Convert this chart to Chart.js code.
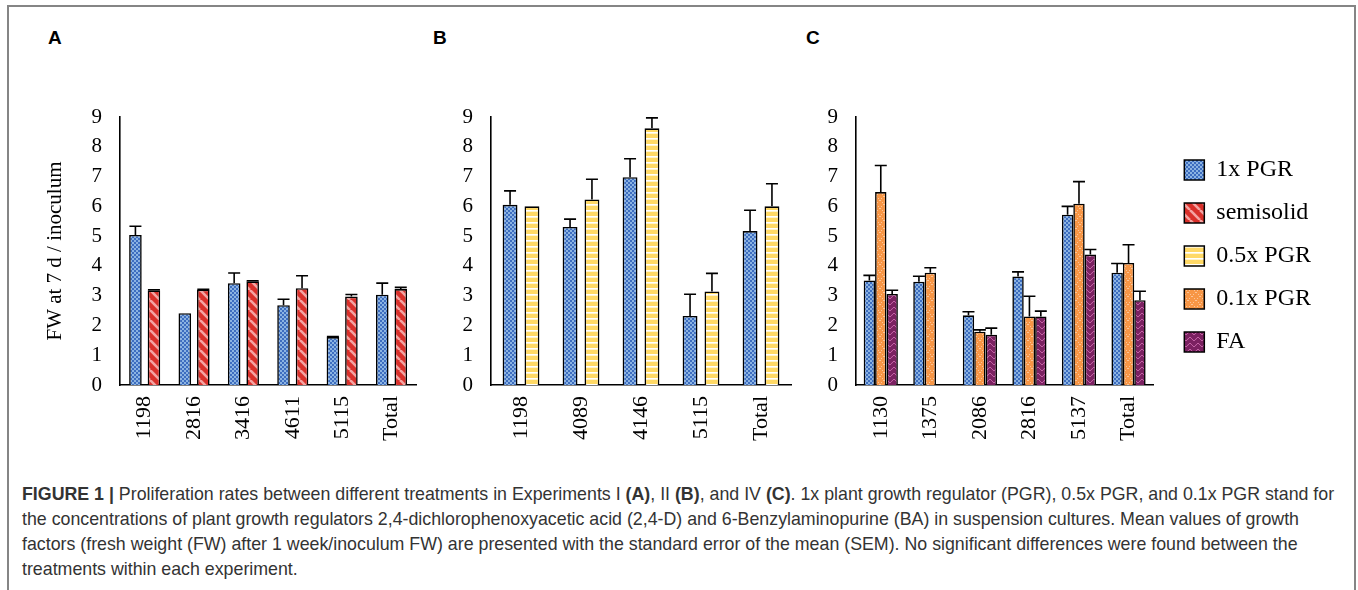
<!DOCTYPE html>
<html>
<head>
<meta charset="utf-8">
<script src="https://cdn.jsdelivr.net/npm/chart.js@4.4.1/dist/chart.umd.min.js"></script>
<style>
  html, body { margin: 0; padding: 0; background: #fff; }
  body { width: 1358px; height: 590px; position: relative; overflow: hidden; }
  .frame { position: absolute; left: 7px; top: 5px; width: 1345px; height: 700px; border: 2px solid #858585; }
  .tag { position: absolute; top: 28px; font: bold 19px/19px "Liberation Sans", Arial, sans-serif; color: #000; }
  canvas { position: absolute; top: 0; }
  .caption { position: absolute; left: 22px; top: 482px; font: 17.8px/25px "Liberation Sans", Arial, sans-serif; color: #333; white-space: nowrap; }
</style>
</head>
<body>
<div class="frame"></div>
<div class="tag" style="left:48px">A</div>
<div class="tag" style="left:433px">B</div>
<div class="tag" style="left:806px">C</div>
<canvas id="chartA" width="430" height="450" style="left:0px"></canvas>
<canvas id="chartB" width="370" height="450" style="left:430px"></canvas>
<canvas id="chartC" width="521" height="450" style="left:800px"></canvas>
<div class="caption"><b>FIGURE 1 |</b> Proliferation rates between different treatments in Experiments I <b>(A)</b>, II <b>(B)</b>, and IV <b>(C)</b>. 1x plant growth regulator (PGR), 0.5x PGR, and 0.1x PGR stand for<br>the concentrations of plant growth regulators 2,4-dichlorophenoxyacetic acid (2,4-D) and 6-Benzylaminopurine (BA) in suspension cultures. Mean values of growth<br>factors (fresh weight (FW) after 1 week/inoculum FW) are presented with the standard error of the mean (SEM). No significant differences were found between the<br>treatments within each experiment.</div>
<script>
// Experiment I (A)
const catsA = ['1198', '2816', '3416', '4611', '5115', 'Total'];
const pgr1A = [5.04, 2.41, 3.42, 2.68, 1.61, 3.03];
const pgr1ErrA = [0.29, 0, 0.34, 0.2, 0.02, 0.39];
const semisolidA = [3.18, 3.2, 3.48, 3.25, 2.97, 3.22];
const semisolidErrA = [0.02, 0.01, 0.02, 0.42, 0.07, 0.06];

// Experiment II (B)
const catsB = ['1198', '4089', '4146', '5115', 'Total'];
const pgr1B = [6.05, 5.31, 6.98, 2.32, 5.17];
const pgr1ErrB = [0.47, 0.26, 0.62, 0.73, 0.7];
const pgr05B = [6.0, 6.23, 8.62, 3.14, 6.0];
const pgr05ErrB = [0, 0.68, 0.35, 0.61, 0.76];

// Experiment IV (C)
const catsC = ['1130', '1375', '2086', '2816', '5137', 'Total'];
const pgr1C = [3.51, 3.47, 2.34, 3.64, 5.72, 3.77];
const pgr1ErrC = [0.17, 0.18, 0.12, 0.16, 0.28, 0.31];
const pgr01C = [6.48, 3.77, 1.79, 2.3, 6.09, 4.1];
const pgr01ErrC = [0.89, 0.17, 0.06, 0.68, 0.74, 0.61];
const faC = [3.06, null, 1.69, 2.3, 4.38, 2.85];
const faErrC = [0.12, null, 0.22, 0.18, 0.17, 0.3];

const yTicks = [0, 1, 2, 3, 4, 5, 6, 7, 8, 9];
const legendNames = ['1x PGR', 'semisolid', '0.5x PGR', '0.1x PGR', 'FA'];

const SERIF = '"Liberation Serif", "Times New Roman", serif';

// ── fill patterns ───────────────────────────────────────────
function tile(w, h, draw) {
    const c = document.createElement('canvas');
    c.width = w; c.height = h;
    draw(c.getContext('2d'), w, h);
    return c.getContext('2d').createPattern(c, 'repeat');
}

const fills = {
    '1x PGR': tile(4, 4, g => {
        g.fillStyle = '#8bb3e2'; g.fillRect(0, 0, 4, 4);
        g.fillStyle = '#3d6dbf'; g.fillRect(0, 0, 2, 2); g.fillRect(2, 2, 2, 2);
    }),
    'semisolid': tile(10, 10, g => {
        g.fillStyle = '#d9302a'; g.fillRect(0, 0, 10, 10);
        g.strokeStyle = '#f4a4a2'; g.lineWidth = 2.6;
        [-10, 0, 10].forEach(o => { g.beginPath(); g.moveTo(o, 0); g.lineTo(o + 10, 10); g.stroke(); });
    }),
    '0.5x PGR': tile(4, 6, g => {
        g.fillStyle = '#ffd966'; g.fillRect(0, 0, 4, 6);
        g.fillStyle = '#ffffff'; g.fillRect(0, 0, 4, 1);
        g.fillStyle = '#fff3cc'; g.fillRect(0, 1, 4, 1);
    }),
    '0.1x PGR': tile(8, 8, g => {
        g.fillStyle = '#f79646'; g.fillRect(0, 0, 8, 8);
        g.fillStyle = '#fbc497';
        for (let i = 0; i < 8; i += 2) { g.fillRect(i, i, 1, 1); g.fillRect(7 - i, i, 1, 1); }
    }),
    'FA': tile(8, 6, g => {
        g.fillStyle = '#7b2161'; g.fillRect(0, 0, 8, 6);
        g.strokeStyle = '#dc78bc'; g.lineWidth = 1;
        g.beginPath();
        for (let x = 0; x <= 8; x += 0.5) {
            const y = 3 + 1.6 * Math.sin(x / 8 * Math.PI * 2);
            x === 0 ? g.moveTo(x, y) : g.lineTo(x, y);
        }
        g.stroke();
    })
};

// ── error bars (upper SEM only) ─────────────────────────────
const errorBars = {
    id: 'errorBars',
    afterDatasetsDraw(chart) {
        const { ctx } = chart;
        const y = chart.scales.y;
        ctx.save();
        ctx.strokeStyle = '#000';
        ctx.lineWidth = 1.6;
        chart.data.datasets.forEach((ds, i) => {
            chart.getDatasetMeta(i).data.forEach((bar, j) => {
                const v = ds.data[j], e = ds.errors[j];
                if (v == null || !e) return;
                const top = y.getPixelForValue(v + e);
                ctx.beginPath();
                ctx.moveTo(bar.x, bar.y);
                ctx.lineTo(bar.x, top);
                ctx.moveTo(bar.x - 6, top);
                ctx.lineTo(bar.x + 6, top);
                ctx.stroke();
            });
        });
        ctx.restore();
    }
};

function series(label, data, errors) {
    return {
        label, data, errors,
        backgroundColor: fills[label],
        borderColor: '#000',
        borderWidth: 1.6
    };
}

function panel(id, cats, datasets, cfg) {
    const scales = {
        x: {
            grid: { display: false, drawTicks: false },
            border: { display: true, color: '#000', width: 1.6 },
            ticks: { color: '#000', font: { family: SERIF, size: 22 }, minRotation: 90, maxRotation: 90, padding: 11, autoSkip: false },
            afterFit: s => { s.height = 65; }
        },
        y: {
            min: 0, max: 9,
            afterBuildTicks: s => { s.ticks = yTicks.map(v => ({ value: v })); },
            ticks: { color: '#000', font: { family: SERIF, size: 21 }, padding: 18 },
            grid: { display: false, drawTicks: false },
            border: { display: true, color: '#000', width: 1.6 },
            title: cfg.yTitle ? {
                display: true, text: cfg.yTitle, color: '#000',
                font: { family: SERIF, size: 21 }, padding: { top: 43, bottom: 0 }
            } : { display: false },
            afterFit: s => { s.width = cfg.yWidth; }
        }
    };
    if (cfg.legend) {
        // thin spacer between the plot and the legend
        scales.gap = {
            type: 'linear', position: 'right', display: true,
            grid: { display: false, drawTicks: false }, border: { display: false },
            ticks: { display: false },
            afterFit: s => { s.width = 12; }
        };
    }
    return new Chart(document.getElementById(id), {
        type: 'bar',
        data: { labels: cats, datasets },
        options: {
            responsive: false,
            animation: false,
            events: [],
            datasets: { bar: { categoryPercentage: cfg.catPct, barPercentage: cfg.barPct } },
            layout: { padding: { top: 117, right: cfg.padRight, bottom: 0, left: 0 } },
            scales,
            plugins: {
                tooltip: { enabled: false },
                legend: cfg.legend ? {
                    display: true, position: 'right', fullSize: false, maxWidth: 300,
                    onClick: null,
                    title: { display: true, text: '', color: '#000', font: { size: 1 }, padding: { top: 9, bottom: 0 } },
                    labels: {
                        boxWidth: 20, boxHeight: 20, padding: 19, color: '#000',
                        font: { family: SERIF, size: 24 },
                        generateLabels: () => legendNames.map(n => ({
                            text: n, fillStyle: fills[n], strokeStyle: '#000', fontColor: '#000', lineWidth: 1.5, hidden: false
                        }))
                    }
                } : { display: false }
            }
        },
        plugins: [errorBars]
    });
}

panel('chartA', catsA, [
    series('1x PGR', pgr1A, pgr1ErrA),
    series('semisolid', semisolidA, semisolidErrA)
], { yWidth: 120, padRight: 13, catPct: 0.75, barPct: 0.68, yTitle: 'FW at 7 d / inoculum' });

panel('chartB', catsB, [
    series('1x PGR', pgr1B, pgr1ErrB),
    series('0.5x PGR', pgr05B, pgr05ErrB)
], { yWidth: 61, padRight: 9, catPct: 0.73, barPct: 0.68 });

panel('chartC', catsC, [
    series('1x PGR', pgr1C, pgr1ErrC),
    series('0.1x PGR', pgr01C, pgr01ErrC),
    series('FA', faC, faErrC)
], { yWidth: 56, padRight: 0, catPct: 0.69, barPct: 1.0, legend: true });
</script>
</body>
</html>
